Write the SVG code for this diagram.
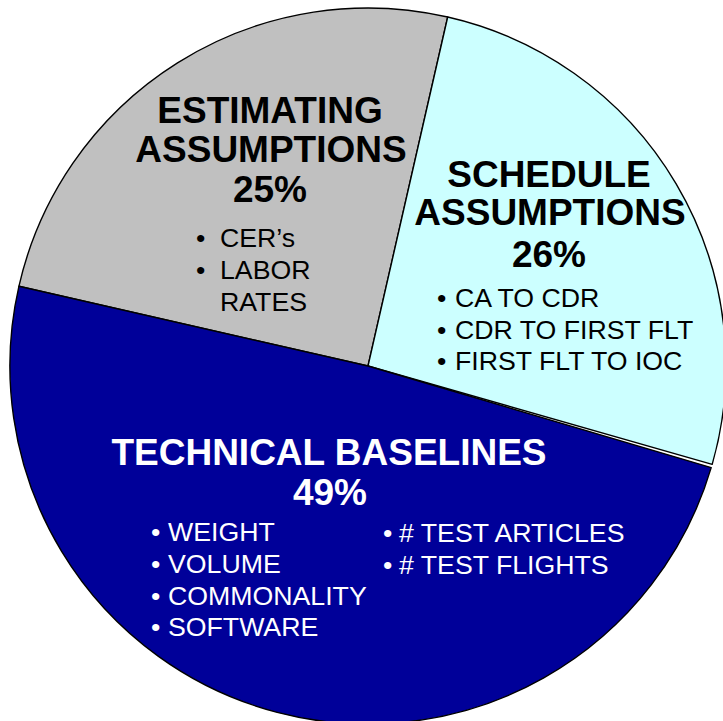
<svg xmlns="http://www.w3.org/2000/svg" width="723" height="721" viewBox="0 0 723 721">
  <style>
    .slice { stroke: #000000; stroke-width: 1.4; stroke-linejoin: round; }
    .est { fill: #C0C0C0; }
    .sch { fill: #CCFFFF; }
    .tech { fill: #000099; }
    text { font-family: "Liberation Sans", Arial, Helvetica, sans-serif; }
    .head { font-size: 37px; font-weight: bold; text-anchor: middle; }
    .item { font-size: 26.7px; }
    .dark { fill: #000000; }
    .light { fill: #FFFFFF; }
  </style>
  <rect width="723" height="721" fill="#FFFFFF"/>

  <!-- Pie centre (368,366), radius 358 -->
  <g id="estimating-assumptions">
    <path class="slice est" d="M368,366 L18.9,286.3 A358,358 0 0 1 447.7,17 Z"/>
    <text class="head dark"><tspan x="270" y="123">ESTIMATING</tspan><tspan x="271" y="162">ASSUMPTIONS</tspan><tspan x="270" y="202">25%</tspan></text>
    <text class="item dark"><tspan x="196" y="247">•</tspan><tspan x="220" y="247">CER’s</tspan></text>
    <text class="item dark"><tspan x="196" y="279">•</tspan><tspan x="220" y="279">LABOR</tspan></text>
    <text class="item dark" x="220" y="311">RATES</text>
  </g>

  <g id="schedule-assumptions">
    <path class="slice sch" d="M368,366 L447.7,17 A358,358 0 0 1 712.2,464.4 Z"/>
    <text class="head dark"><tspan x="549" y="187">SCHEDULE</tspan><tspan x="550" y="225">ASSUMPTIONS</tspan><tspan x="549" y="267">26%</tspan></text>
    <text class="item dark"><tspan x="437" y="307">•</tspan><tspan x="455" y="307">CA TO CDR</tspan></text>
    <text class="item dark"><tspan x="437" y="339">•</tspan><tspan x="455" y="339">CDR TO FIRST FLT</tspan></text>
    <text class="item dark"><tspan x="437" y="370">•</tspan><tspan x="455" y="370">FIRST FLT TO IOC</tspan></text>
  </g>

  <g id="technical-baselines">
    <path class="slice tech" d="M368,366 L711.2,467.6 A358,358 0 0 1 18.9,286.3 Z"/>
    <text class="head light"><tspan x="329" y="465">TECHNICAL BASELINES</tspan><tspan x="330" y="505">49%</tspan></text>
    <text class="item light"><tspan x="151" y="541">•</tspan><tspan x="168" y="541">WEIGHT</tspan></text>
    <text class="item light"><tspan x="151" y="573">•</tspan><tspan x="168" y="573">VOLUME</tspan></text>
    <text class="item light"><tspan x="151" y="605">•</tspan><tspan x="168" y="605">COMMONALITY</tspan></text>
    <text class="item light"><tspan x="151" y="636">•</tspan><tspan x="168" y="636">SOFTWARE</tspan></text>
    <text class="item light"><tspan x="383" y="542">•</tspan><tspan x="399" y="542"># TEST ARTICLES</tspan></text>
    <text class="item light"><tspan x="383" y="574">•</tspan><tspan x="399" y="574"># TEST FLIGHTS</tspan></text>
  </g>
</svg>
